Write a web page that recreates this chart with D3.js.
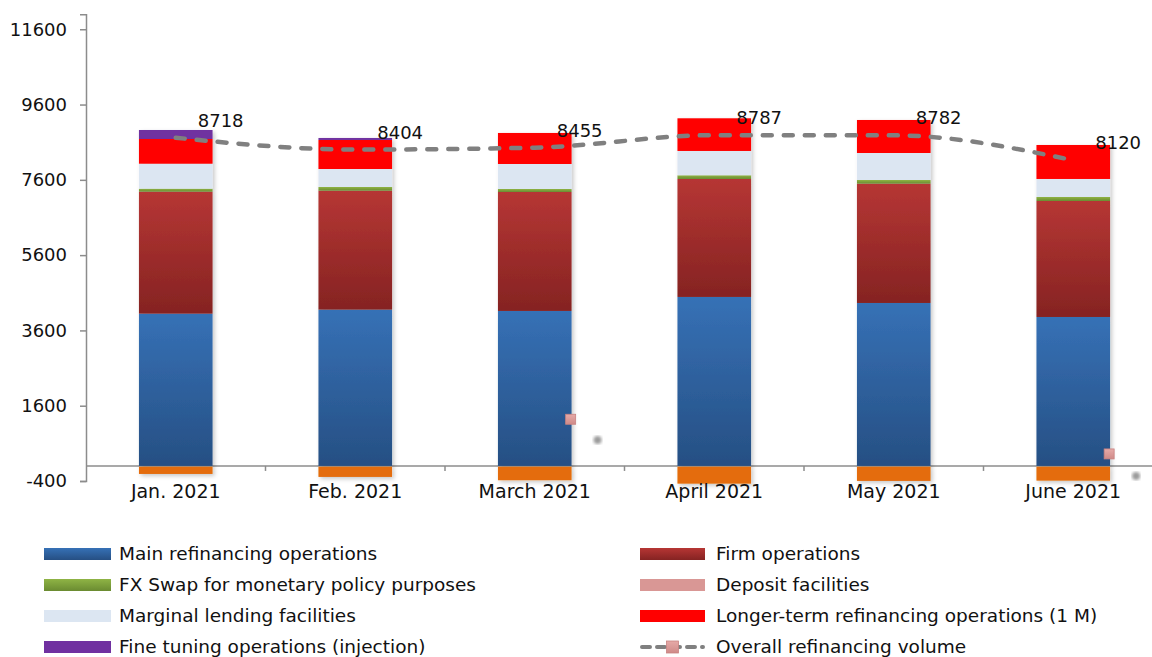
<!DOCTYPE html>
<html>
<head>
<meta charset="utf-8">
<script src="https://cdn.jsdelivr.net/npm/d3@7"></script>
<style>
  html, body { margin: 0; padding: 0; background: #fff; }
  svg { display: block; font-family: "DejaVu Sans", Verdana, sans-serif; }
</style>
</head>
<body>
<svg id="chart" width="1152" height="657"></svg>
<script>
// Monthly refinancing operations (stacked) with overall refinancing volume
const months = ["Jan. 2021", "Feb. 2021", "March 2021", "April 2021", "May 2021", "June 2021"];

const mainRefinancing   = [4045, 4152, 4117, 4489, 4329, 3957];
const firmOperations    = [3240, 3160, 3160, 3134, 3170, 3081];
const fxSwap            = [80, 98, 80, 98, 97, 107];
const marginalLending   = [664, 478, 664, 646, 717, 478];
const longerTermRefi    = [656, 771, 824, 868, 877, 903];
const fineTuning        = [239, 53, 0, 0, 0, 0];
const depositFacilities = [-213, -292, -380, -470, -398, -390];
const overallVolume     = [8718, 8404, 8455, 8787, 8782, 8120];

// loose markers sitting beside the March and June bars
const looseMarkerMonths = ["March 2021", "June 2021"];
const looseMarkerValues = [1240, 319];
const looseDotValues    = [690, -266];

const yTicks = [-400, 1600, 3600, 5600, 7600, 9600, 11600];

const legendLeft  = ["Main refinancing operations", "FX Swap for monetary policy purposes",
                     "Marginal lending facilities", "Fine tuning operations (injection)"];
const legendRight = ["Firm operations", "Deposit facilities",
                     "Longer-term refinancing operations (1 M)", "Overall refinancing volume"];

const svg = d3.select("#chart");
const defs = svg.append("defs");

function vGrad(id, top, bottom) {
  const g = defs.append("linearGradient").attr("id", id)
    .attr("x1", 0).attr("y1", 0).attr("x2", 0).attr("y2", 1);
  g.append("stop").attr("offset", "0%").attr("stop-color", top);
  g.append("stop").attr("offset", "100%").attr("stop-color", bottom);
}
vGrad("gBlue", "#3671b6", "#264f83");
vGrad("gFirm", "#b63634", "#852322");
vGrad("gGreen", "#8fb445", "#6a8b31");
vGrad("gPink", "#e6aaa8", "#cf8a88");

const shadow = defs.append("filter").attr("id", "shadow")
  .attr("x", "-20%").attr("y", "-20%").attr("width", "150%").attr("height", "150%");
shadow.append("feDropShadow").attr("dx", 2).attr("dy", 2)
  .attr("stdDeviation", 2).attr("flood-color", "#000").attr("flood-opacity", 0.22);

const blur = defs.append("filter").attr("id", "soft");
blur.append("feGaussianBlur").attr("stdDeviation", 1.6);

const x = d3.scaleBand().domain(months).range([86, 1163]).paddingInner(0).paddingOuter(0);
const y = d3.scaleLinear().domain([-400, 12000]).range([481, 14.2]);
const barW = x.bandwidth() * 0.41;

// stacked series, bottom to top
const stackSeries = [
  { name: "Main refinancing operations", values: mainRefinancing, fill: "url(#gBlue)" },
  { name: "Firm operations", values: firmOperations, fill: "url(#gFirm)" },
  { name: "FX Swap for monetary policy purposes", values: fxSwap, fill: "url(#gGreen)" },
  { name: "Marginal lending facilities", values: marginalLending, fill: "#dce6f2" },
  { name: "Longer-term refinancing operations (1 M)", values: longerTermRefi, fill: "#ff0000" },
  { name: "Fine tuning operations (injection)", values: fineTuning, fill: "#7030a0" }
];

const table = months.map((m, i) => {
  const row = { month: m };
  stackSeries.forEach(s => row[s.name] = s.values[i]);
  return row;
});
const stacked = d3.stack().keys(stackSeries.map(s => s.name))(table);

// axes lines (drawn first so bars sit on top)
const axisColor = "#8c8c8c";
const yAxis = d3.axisLeft(y).tickValues(yTicks).tickSize(6).tickPadding(13).tickFormat(d => String(d));
const yG = svg.append("g").attr("transform", "translate(86,0)").call(yAxis);
yG.select(".domain").attr("stroke", axisColor).attr("stroke-width", 1.5);
yG.selectAll(".tick line").attr("stroke", axisColor).attr("stroke-width", 1.5);
yG.selectAll(".tick text").attr("font-size", 18).attr("fill", "#111")
  .attr("font-family", "'DejaVu Sans', Verdana, sans-serif");

const xAxisG = svg.append("g").attr("transform", `translate(0,${y(0)})`);
xAxisG.append("line").attr("x1", 86).attr("x2", 1163).attr("y1", 0).attr("y2", 0)
  .attr("stroke", axisColor).attr("stroke-width", 1.5);
xAxisG.selectAll("line.sep").data(months.slice(1)).join("line").attr("class", "sep")
  .attr("x1", d => x(d)).attr("x2", d => x(d)).attr("y1", 0).attr("y2", 5)
  .attr("stroke", axisColor).attr("stroke-width", 1.5);

// bars
const barsG = svg.append("g").attr("filter", "url(#shadow)");
stacked.forEach((layer, li) => {
  barsG.append("g").selectAll("rect").data(layer).join("rect")
    .attr("x", d => x(d.data.month) + (x.bandwidth() - barW) / 2)
    .attr("width", barW)
    .attr("y", d => y(d[1]))
    .attr("height", d => Math.max(0, y(d[0]) - y(d[1])))
    .attr("fill", stackSeries[li].fill);
});
barsG.append("g").selectAll("rect").data(depositFacilities).join("rect")
  .attr("x", (d, i) => x(months[i]) + (x.bandwidth() - barW) / 2)
  .attr("width", barW)
  .attr("y", y(0) + 0.8)
  .attr("height", d => y(d) - y(0) - 0.8)
  .attr("fill", "#e46c0a");

// category labels
svg.append("g").selectAll("text").data(months).join("text")
  .attr("x", d => x(d) + x.bandwidth() / 2)
  .attr("y", 498)
  .attr("text-anchor", "middle")
  .attr("font-size", 19)
  .attr("fill", "#111")
  .text(d => d);

// overall refinancing volume line
const cx = m => x(m) + x.bandwidth() / 2;
const line = d3.line()
  .x((d, i) => cx(months[i]))
  .y(d => y(d))
  .curve(d3.curveMonotoneX);
svg.append("path").datum(overallVolume)
  .attr("d", line)
  .attr("fill", "none")
  .attr("stroke", "#808080")
  .attr("stroke-width", 4.5)
  .attr("stroke-linecap", "round")
  .attr("stroke-dasharray", "9,12");

svg.append("g").selectAll("text").data(overallVolume).join("text")
  .attr("x", (d, i) => cx(months[i]) + 22)
  .attr("y", d => y(d) - 11)
  .attr("font-size", 18)
  .attr("fill", "#111")
  .text(d => d);

// loose markers
svg.append("g").selectAll("rect").data(looseMarkerValues).join("rect")
  .attr("x", (d, i) => cx(looseMarkerMonths[i]) + x.bandwidth() * 0.2 - 5)
  .attr("y", d => y(d) - 5)
  .attr("width", 10).attr("height", 10)
  .attr("fill", "url(#gPink)")
  .attr("stroke", "#c98280").attr("stroke-width", 0.8);
svg.append("g").selectAll("circle").data(looseDotValues).join("circle")
  .attr("cx", (d, i) => cx(looseMarkerMonths[i]) + x.bandwidth() * 0.35)
  .attr("cy", d => y(d))
  .attr("r", 4)
  .attr("fill", "#9a9a9a")
  .attr("filter", "url(#soft)");

// legend
const legendSwatch = {
  "Main refinancing operations": "url(#gBlue)",
  "FX Swap for monetary policy purposes": "url(#gGreen)",
  "Marginal lending facilities": "#dce6f2",
  "Fine tuning operations (injection)": "#7030a0",
  "Firm operations": "url(#gFirm)",
  "Deposit facilities": "#d99795",
  "Longer-term refinancing operations (1 M)": "#ff0000"
};
const rowY = [554, 585, 616, 647];
function legendColumn(items, sx, sw, tx) {
  const g = svg.append("g");
  items.forEach((name, i) => {
    const cy = rowY[i];
    if (name === "Overall refinancing volume") {
      g.append("line").attr("x1", sx + 2).attr("x2", sx + sw - 2).attr("y1", cy).attr("y2", cy)
        .attr("stroke", "#808080").attr("stroke-width", 4).attr("stroke-linecap", "round")
        .attr("stroke-dasharray", "8,7");
      g.append("rect").attr("x", sx + sw / 2 - 6).attr("y", cy - 6).attr("width", 12).attr("height", 12)
        .attr("fill", "url(#gPink)").attr("stroke", "#c98280").attr("stroke-width", 0.8);
    } else {
      g.append("rect").attr("x", sx).attr("y", cy - 6).attr("width", sw).attr("height", 12)
        .attr("fill", legendSwatch[name]);
    }
    g.append("text").attr("x", tx).attr("y", cy).attr("dy", "0.35em")
      .attr("font-size", 18.5).attr("fill", "#111").text(name);
  });
}
legendColumn(legendLeft, 44, 67, 119);
legendColumn(legendRight, 640, 65, 716);
</script>
</body>
</html>
